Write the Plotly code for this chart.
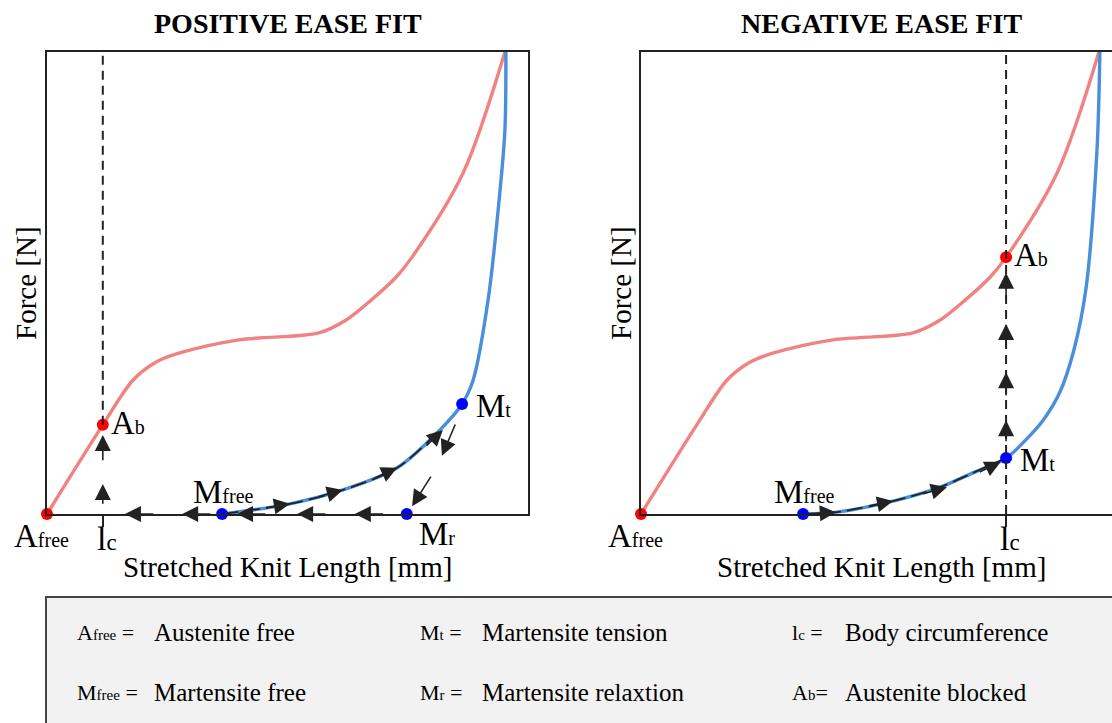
import plotly.graph_objects as go

W, H = 1112, 723
SERIF = "Liberation Serif, Times New Roman, serif"
INK = "#222222"
RED_LINE = "#f08282"
BLUE_LINE = "#4a8fdc"

# ---- data (length and force in relative units, 0-100) ----
# Austenite loading curve, same material in both cases
austenite_len = [0, 11.6, 17.9, 22.7, 27.4, 39.9, 56.5, 62.2, 67.4, 72.6, 75.9, 86.5, 95.2]
austenite_force = [0, 19.3, 29.0, 32.9, 34.8, 37.7, 39.2, 42.0, 46.3, 51.3, 55.6, 73.8, 100]

# Martensite curve, positive ease fit
pos_mart_len = [36.4, 50.5, 61.5, 72.8, 81.7, 86.3, 88.6, 91.7, 94.0, 95.2, 95.4]
pos_mart_force = [0, 2.2, 5.2, 10.0, 18.2, 23.8, 29.0, 46.3, 68.0, 83.1, 100]

# Martensite curve, negative ease fit
neg_mart_len = [33.7, 40.7, 53.2, 62.2, 69.0, 75.9, 79.4, 83.6, 87.1, 90.0, 92.5, 94.8, 95.4]
neg_mart_force = [0, 0.4, 3.0, 5.8, 8.9, 12.1, 15.4, 20.3, 26.4, 35.5, 48.7, 78.8, 100]

# body circumference position in each panel
pos_lc = 11.6
neg_lc = 75.9

# named states: (label, length, force)
pos_red_states = [("A_free", 0, 0), ("A_b", 11.6, 19.3)]
pos_blue_states = [("M_free", 36.4, 0), ("M_t", 86.3, 23.8), ("M_r", 74.8, 0)]
neg_red_states = [("A_free", 0, 0), ("A_b", 75.9, 55.6)]
neg_blue_states = [("M_free", 33.7, 0), ("M_t", 75.9, 12.1)]

# loading path overlay length along the martensite curve (number of points)
pos_load_pts = 5
neg_load_pts = 6

# arrows: (tail_len, tail_force, tip_len, tip_force)
pos_arrows = [
    # along martensite loading
    (45.3, 1.3, 50.5, 2.2), (56.3, 3.7, 61.5, 5.2), (67.8, 7.6, 72.8, 10.0), (78.6, 14.5, 82.3, 18.2),
    # relaxation M_t -> M_r
    (85.0, 19.7, 82.1, 12.6), (80.0, 8.4, 75.9, 1.7),
    # free contraction along the length axis
    (22.4, 0, 16.2, 0), (34.3, 0, 28.1, 0), (45.7, 0, 39.5, 0), (58.2, 0, 52.0, 0), (70.2, 0, 64.0, 0),
    # heating at body circumference
    (11.6, 1.9, 11.6, 6.5), (11.6, 11.3, 11.6, 17.1),
]
neg_arrows = [
    (36.0, 0.1, 40.5, 0.4), (47.2, 1.7, 52.4, 2.8), (58.4, 4.3, 63.6, 5.8), (70.1, 8.9, 74.8, 11.3),
    (75.9, 15.4, 75.9, 20.3), (75.9, 25.3, 75.9, 30.7), (75.9, 35.7, 75.9, 41.1), (75.9, 46.5, 75.9, 52.2),
]

# legend rows: (symbol, subscript, separator, description, x of symbol, x of description, row y)
legend_rows = [
    ("A", "free", " =", "Austenite free", 75, 152, 632),
    ("M", "t", " =", "Martensite tension", 418, 480, 632),
    ("l", "c", " =", "Body circumference", 790, 843, 632),
    ("M", "free", " =", "Martensite free", 75, 152, 692),
    ("M", "r", " =", "Martensite relaxtion", 418, 480, 692),
    ("A", "b", "=", "Austenite blocked", 790, 843, 692),
]

# ---- layout geometry (pixels) ----
PX_PER_X = 4.81
left_x0, left_x1 = 47, 528
right_x0 = 641
box_top, box_bottom = 52, 514


def px(x):
    return x / W


def py(y):
    return 1 - y / H


fig = go.Figure()


def add_panel(xa, ya, mart_len, mart_force, load_pts, red_states, blue_states):
    fig.add_trace(go.Scatter(x=austenite_len, y=austenite_force, mode="lines",
                             line=dict(color=RED_LINE, width=3.4, shape="spline", smoothing=0.9),
                             xaxis=xa, yaxis=ya, hoverinfo="skip"))
    fig.add_trace(go.Scatter(x=mart_len, y=mart_force, mode="lines",
                             line=dict(color=BLUE_LINE, width=3.4, shape="spline", smoothing=0.9),
                             xaxis=xa, yaxis=ya, hoverinfo="skip"))
    fig.add_trace(go.Scatter(x=mart_len[:load_pts], y=mart_force[:load_pts], mode="lines",
                             line=dict(color=INK, width=1.8, shape="spline", smoothing=0.9, dash="16px,6px"),
                             xaxis=xa, yaxis=ya, hoverinfo="skip"))
    fig.add_trace(go.Scatter(x=[s[1] for s in red_states], y=[s[2] for s in red_states], mode="markers",
                             marker=dict(color="#ff0000", size=12), cliponaxis=False,
                             xaxis=xa, yaxis=ya, hoverinfo="skip"))
    fig.add_trace(go.Scatter(x=[s[1] for s in blue_states], y=[s[2] for s in blue_states], mode="markers",
                             marker=dict(color="#0000ff", size=12), cliponaxis=False,
                             xaxis=xa, yaxis=ya, hoverinfo="skip"))


add_panel("x", "y", pos_mart_len, pos_mart_force, pos_load_pts, pos_red_states, pos_blue_states)
add_panel("x2", "y2", neg_mart_len, neg_mart_force, neg_load_pts, neg_red_states, neg_blue_states)

annotations = []
shapes = []


def arrows(xr, yr, items):
    for tx, ty, hx, hy in items:
        annotations.append(dict(x=hx, y=hy, ax=tx, ay=ty, xref=xr, yref=yr, axref=xr, ayref=yr,
                                text="", showarrow=True, arrowhead=2, arrowsize=2, arrowwidth=1.6,
                                arrowcolor=INK, standoff=0, startstandoff=0))


arrows("x", "y", pos_arrows)
arrows("x2", "y2", neg_arrows)


def sub(big, small, big_size=33, small_size=20):
    return f'<span style="font-size:{big_size}px">{big}</span><span style="font-size:{small_size}px">{small}</span>'


# offsets of each state label from its point (px): (xanchor, xshift, yshift)
label_offsets = {
    "A_free": ("center", -6, -22),
    "A_b": ("left", 6, 2),
    "M_free": ("center", 1, 22),
    "M_t": ("left", 12, -2),
    "M_r": ("left", 10, -20),
}


def state_labels(xr, yr, states):
    for name, x, y in states:
        big, small = name.split("_")
        anchor, xs, ys = label_offsets[name]
        annotations.append(dict(x=x, y=y, xref=xr, yref=yr, text=sub(big, small), showarrow=False,
                                xanchor=anchor, yanchor="middle", xshift=xs, yshift=ys,
                                font=dict(family=SERIF, size=33, color="black")))


state_labels("x", "y", pos_red_states + pos_blue_states)
state_labels("x2", "y2", neg_red_states + neg_blue_states)

for xr, yr, lc in (("x", "y", pos_lc), ("x2", "y2", neg_lc)):
    annotations.append(dict(x=lc, y=0, xref=xr, yref=yr, text=sub("l", "c", 34, 23), showarrow=False,
                            xanchor="center", yanchor="middle", xshift=4, yshift=-24,
                            font=dict(family=SERIF, size=34, color="black")))

# body circumference guide lines
shapes.append(dict(type="line", xref="x", yref="y", x0=pos_lc, x1=pos_lc, y0=pos_red_states[1][2], y1=100,
                   line=dict(color=INK, width=2, dash="9px,6px")))
shapes.append(dict(type="line", xref="x2", yref="y2", x0=neg_lc, x1=neg_lc, y0=0, y1=100,
                   line=dict(color=INK, width=2, dash="9px,6px")))

# panel titles and axis titles
for cx, title in ((287.5, "POSITIVE EASE FIT"), (881.5, "NEGATIVE EASE FIT")):
    annotations.append(dict(x=px(cx), y=py(24), xref="paper", yref="paper", text=f"<b>{title}</b>",
                            showarrow=False, xanchor="center", yanchor="middle",
                            font=dict(family=SERIF, size=28, color="black")))
    annotations.append(dict(x=px(cx), y=py(567), xref="paper", yref="paper", text="Stretched Knit Length [mm]",
                            showarrow=False, xanchor="center", yanchor="middle",
                            font=dict(family=SERIF, size=29, color="black")))
for cx in (26, 621):
    annotations.append(dict(x=px(cx), y=py(283), xref="paper", yref="paper", text="Force [N]", textangle=-90,
                            showarrow=False, xanchor="center", yanchor="middle",
                            font=dict(family=SERIF, size=29, color="black")))

# legend box
shapes.append(dict(type="rect", xref="paper", yref="paper", x0=px(46), x1=px(1130), y0=py(740), y1=py(597),
                   fillcolor="#f2f2f2", line=dict(color="#444444", width=2), layer="below"))
for big, small, sep, desc, xs, xd, yr in legend_rows:
    annotations.append(dict(x=px(xs), y=py(yr), xref="paper", yref="paper",
                            text=sub(big, small, 22, 15) + f'<span style="font-size:22px">{sep}</span>',
                            showarrow=False, xanchor="left", yanchor="middle",
                            font=dict(family=SERIF, size=22, color="black")))
    annotations.append(dict(x=px(xd), y=py(yr), xref="paper", yref="paper", text=desc,
                            showarrow=False, xanchor="left", yanchor="middle",
                            font=dict(family=SERIF, size=25, color="black")))

axis_common = dict(showgrid=False, zeroline=False, showline=True, linecolor=INK, linewidth=2,
                   showticklabels=False, fixedrange=True)

fig.update_layout(
    width=W, height=H, margin=dict(l=0, r=0, t=0, b=0),
    paper_bgcolor="white", plot_bgcolor="white", showlegend=False,
    xaxis=dict(domain=[px(left_x0), px(left_x1)], range=[0, (left_x1 - left_x0) / PX_PER_X], anchor="y",
               mirror=True, tickvals=[pos_lc], ticks="outside", ticklen=11, tickwidth=1.6, tickcolor=INK,
               **axis_common),
    yaxis=dict(domain=[py(box_bottom), py(box_top)], range=[0, 100], anchor="x", mirror=True, ticks="",
               **axis_common),
    xaxis2=dict(domain=[px(right_x0), 1], range=[0, (W - right_x0) / PX_PER_X], anchor="y2",
                mirror=True, tickvals=[neg_lc], ticks="outside", ticklen=11, tickwidth=1.6, tickcolor=INK,
                **axis_common),
    yaxis2=dict(domain=[py(box_bottom), py(box_top)], range=[0, 100], anchor="x2", mirror=False, ticks="",
                **axis_common),
    annotations=annotations,
    shapes=shapes,
)

fig.write_html("out.html")
